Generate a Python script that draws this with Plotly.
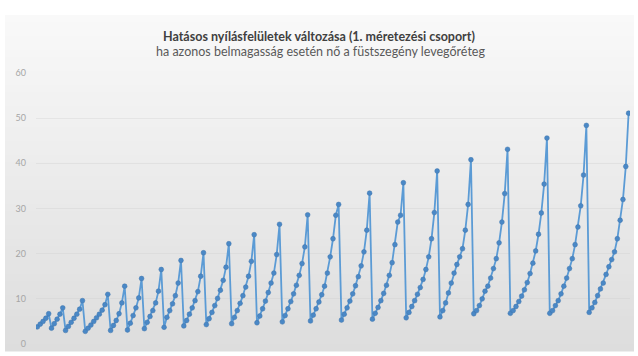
import plotly.graph_objects as go

# Hatásos nyílásfelület (m²) csoportonként: minden csoport egy belmagassághoz tartozik,
# a csoporton belül a füstszegény levegőréteg magassága nő.
g01 = [3.8, 4.4, 5.0, 5.7, 6.7]
g02 = [3.5, 4.5, 5.5, 6.6, 8.0]
g03 = [3.0, 3.9, 4.8, 5.7, 6.6, 7.7, 9.6]
g04 = [2.8, 3.5, 4.2, 5.0, 5.8, 6.6, 7.5, 8.7, 11.0]
g05 = [3.0, 4.1, 5.2, 6.7, 9.1, 12.8]
g06 = [3.1, 4.6, 6.3, 8.0, 10.2, 14.5]
g07 = [3.4, 4.8, 6.1, 7.4, 9.1, 11.7, 16.5]
g08 = [3.7, 5.9, 7.4, 8.9, 10.7, 13.5, 18.5]
g09 = [4.0, 5.2, 6.6, 8.0, 9.6, 11.6, 15.0, 20.2]
g10 = [4.3, 5.6, 7.0, 8.5, 10.1, 11.9, 14.1, 17.0, 22.2]
g11 = [4.5, 5.9, 7.4, 9.0, 10.7, 12.6, 15.0, 18.3, 24.2]
g12 = [4.7, 6.2, 7.8, 9.5, 11.4, 13.5, 15.7, 19.8, 26.5]
g13 = [4.9, 6.3, 7.8, 9.4, 11.1, 13.0, 15.2, 17.8, 21.5, 28.6]
g14 = [5.1, 6.4, 7.8, 9.3, 10.9, 12.8, 15.7, 19.3, 23.3, 28.5, 30.9]
g15 = [5.3, 6.6, 8.0, 9.5, 11.1, 12.9, 14.9, 17.3, 20.4, 25.2, 33.4]
g16 = [5.5, 6.8, 8.1, 9.6, 11.2, 13.0, 15.2, 18.0, 22.0, 27.0, 28.5, 35.7]
g17 = [5.8, 7.0, 8.3, 9.6, 11.0, 12.5, 14.3, 16.5, 19.3, 23.3, 29.1, 38.3]
g18 = [6.0, 7.4, 9.1, 11.3, 13.5, 15.7, 17.6, 19.3, 21.1, 25.2, 30.9, 40.8]
g19 = [6.7, 7.4, 8.5, 10.0, 11.7, 12.8, 14.6, 16.7, 18.9, 22.4, 27.0, 33.3, 43.1]
g20 = [6.8, 7.4, 8.3, 9.4, 10.6, 12.0, 13.6, 15.6, 17.9, 20.6, 24.3, 29.0, 35.4, 45.6]
g21 = [6.8, 7.4, 8.5, 9.6, 11.1, 12.8, 14.6, 16.7, 18.9, 22.0, 25.9, 30.6, 37.4, 48.4]
g22 = [7.0, 8.0, 9.2, 10.7, 12.2, 13.5, 15.4, 17.1, 18.7, 20.4, 23.3, 27.4, 32.0, 39.3, 51.1]

groups = [g01, g02, g03, g04, g05, g06, g07, g08, g09, g10, g11,
          g12, g13, g14, g15, g16, g17, g18, g19, g20, g21, g22]

y_ticks = [0, 10, 20, 30, 40, 50, 60]

title_text = "Hatásos nyílásfelületek változása (1. méretezési csoport)"
subtitle_text = "ha azonos belmagasság esetén nő a füstszegény levegőréteg"

values = [v for g in groups for v in g]
x = list(range(len(values)))

W, H = 638, 356
M_L, M_R, M_T, M_B = 36, 8, 73, 7
plot_w = W - M_L - M_R
plot_h = H - M_T - M_B


def px_to_paper_x(px):
    return (px - M_L) / plot_w


def px_to_paper_y(py):
    return (H - M_B - py) / plot_h


# soft vertical gradient of the chart box
shapes = []
box_top, box_bottom, box_left, box_right = 14, H, 5, W - 4
bands = 48
top_rgb = (249, 249, 249)
bot_rgb = (221, 221, 221)
for i in range(bands):
    t = i / (bands - 1)
    c = tuple(round(a + (b - a) * t) for a, b in zip(top_rgb, bot_rgb))
    y0 = box_top + (box_bottom - box_top) * i / bands
    y1 = box_top + (box_bottom - box_top) * (i + 1) / bands + 0.6
    shapes.append(dict(
        type="rect", xref="paper", yref="paper", layer="below",
        x0=px_to_paper_x(box_left), x1=px_to_paper_x(box_right),
        y0=px_to_paper_y(y1), y1=px_to_paper_y(y0),
        fillcolor="rgb(%d,%d,%d)" % c, line=dict(width=0),
    ))

fig = go.Figure()
fig.add_trace(go.Scatter(
    x=x, y=values, mode="lines+markers",
    line=dict(color="#5b9bd5", width=1.8),
    marker=dict(symbol="circle", size=4.8, color="#4a88c6",
                line=dict(color="#3f74ad", width=0.5)),
    hoverinfo="y", showlegend=False,
))

fig.update_layout(
    width=W, height=H,
    margin=dict(l=M_L, r=M_R, t=M_T, b=M_B, pad=0),
    paper_bgcolor="white",
    plot_bgcolor="rgba(0,0,0,0)",
    shapes=shapes,
    font=dict(family="Lato, 'Open Sans', sans-serif", color="#a6a6a6", size=9),
    annotations=[
        dict(text="<b>%s</b>" % title_text, xref="paper", yref="paper",
             x=px_to_paper_x(319), y=px_to_paper_y(36), xanchor="center",
             yanchor="middle", showarrow=False,
             font=dict(size=12.5, color="#404040", family="Lato, sans-serif")),
        dict(text=subtitle_text, xref="paper", yref="paper",
             x=px_to_paper_x(320), y=px_to_paper_y(51), xanchor="center",
             yanchor="middle", showarrow=False,
             font=dict(size=12.5, color="#595959", family="Lato, sans-serif")),
    ],
    xaxis=dict(range=[-0.5, len(values) - 0.5], showticklabels=False,
               showgrid=False, zeroline=False, showline=False, ticks=""),
    yaxis=dict(range=[0, 60], tickvals=y_ticks, showgrid=True,
               gridcolor="rgba(205,205,205,0.35)", gridwidth=1,
               zeroline=False, showline=False, ticks="",
               ticklabelstandoff=9,
               tickfont=dict(size=9, color="#a6a6a6")),
)

fig.write_html("out.html")
